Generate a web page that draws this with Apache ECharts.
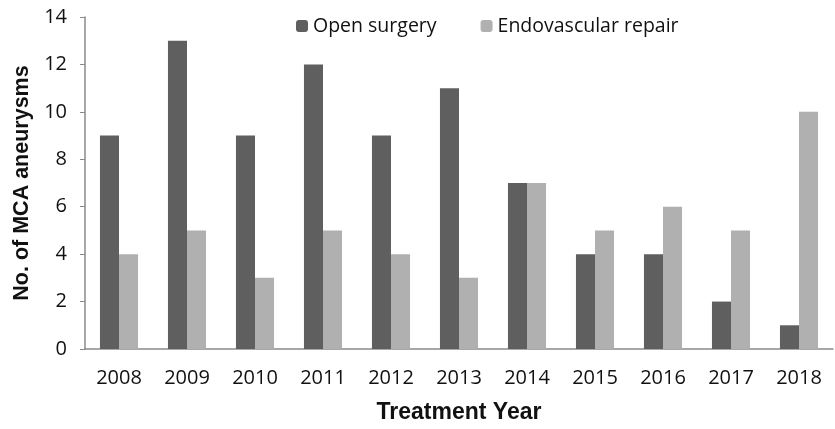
<!DOCTYPE html>
<html>
<head>
<meta charset="utf-8">
<script src="https://cdn.jsdelivr.net/npm/echarts@6/dist/echarts.min.js"></script>
<style>
  html, body { margin: 0; padding: 0; background: #fff; }
  #chart { width: 835px; height: 429px; }
</style>
</head>
<body>
<div id="chart"></div>
<script>
const years = ['2008', '2009', '2010', '2011', '2012', '2013', '2014', '2015', '2016', '2017', '2018'];
const openSurgery = [9, 13, 9, 12, 9, 11, 7, 4, 4, 2, 1];
const endovascular = [4, 5, 3, 5, 4, 3, 7, 5, 6, 5, 10];

const chart = echarts.init(document.getElementById('chart'));

const labelFont = { fontFamily: 'Open Sans', fontSize: 20, color: '#111' };

chart.setOption({
  animation: false,
  legend: {
    top: 11,
    left: 291,
    itemWidth: 12,
    itemHeight: 12,
    itemGap: 44,
    textStyle: { fontFamily: 'Open Sans', fontSize: 19.5, color: '#111' },
    data: ['Open surgery', 'Endovascular repair'],
  },
  grid: {
    left: 85,
    right: 2,
    top: 17,
    bottom: 78,
  },
  xAxis: {
    type: 'category',
    data: years,
    name: 'Treatment Year',
    nameLocation: 'middle',
    nameGap: 52,
    nameTextStyle: { fontFamily: 'Liberation Sans', fontWeight: 'bold', fontSize: 23, color: '#111' },
    axisLine: { lineStyle: { color: '#8a8a8a', width: 1.5 } },
    axisTick: { show: false },
    axisLabel: Object.assign({ margin: 19 }, labelFont),
  },
  yAxis: {
    type: 'value',
    min: 0,
    max: 14,
    interval: 2,
    name: 'No. of MCA aneurysms',
    nameLocation: 'middle',
    nameGap: 52,
    nameTextStyle: { fontFamily: 'Liberation Sans', fontWeight: 'bold', fontSize: 21.5, color: '#111' },
    axisLine: { show: true, lineStyle: { color: '#8a8a8a', width: 1.5 } },
    axisTick: { show: true, length: 5, lineStyle: { color: '#8a8a8a' } },
    splitLine: { show: false },
    axisLabel: Object.assign({ margin: 18 }, labelFont),
  },
  series: [
    {
      name: 'Open surgery',
      type: 'bar',
      data: openSurgery,
      barGap: '0%',
      barCategoryGap: '44%',
      itemStyle: { color: '#5f5f5f' },
    },
    {
      name: 'Endovascular repair',
      type: 'bar',
      data: endovascular,
      itemStyle: { color: '#b0b0b0' },
    },
  ],
});
</script>
</body>
</html>
